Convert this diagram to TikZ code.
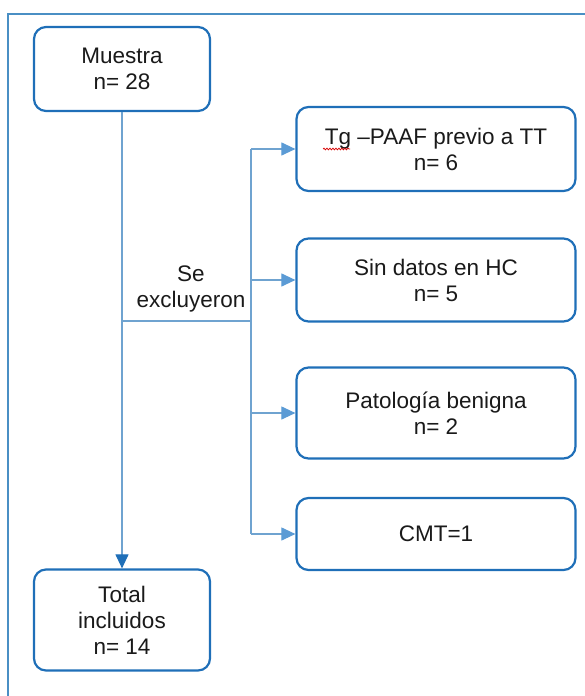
\documentclass[tikz,border=0pt]{standalone}
\usepackage{fontspec}
\setmainfont{Liberation Sans}
\usetikzlibrary{arrows.meta,decorations.pathmorphing}
\definecolor{boxblue}{HTML}{1F6FB8}
\definecolor{lineblue}{HTML}{6FA3D0}
\definecolor{arrblue}{HTML}{5B9BD5}
\definecolor{framec}{HTML}{4A8FC4}
\definecolor{txt}{HTML}{1A1A1A}
\begin{document}
\begin{tikzpicture}[x=1pt,y=-1pt,
  flowbox/.style={draw=boxblue,line width=2.2pt,rounded corners=12pt,fill=white,
    align=center,inner sep=0pt,font=\fontsize{22.5}{26}\selectfont,text=txt},
  conn/.style={draw=lineblue,line width=1.1pt},
  sidearrow/.style={conn,-{Triangle[length=14pt,width=13pt,fill=arrblue,color=arrblue]}},
  mainarrow/.style={conn,-{Triangle[length=14pt,width=13pt,fill=boxblue,color=boxblue]}}]
\useasboundingbox (0,0) rectangle (585,696);
% frame
\draw[framec,line width=1.2pt] (8,696) -- (8,14) -- (585,14);
% boxes
\node[flowbox,minimum width=176pt,minimum height=84pt] (muestra) at (122,69) {Muestra\\n= 28};
\node[flowbox,minimum width=176pt,minimum height=101pt] (total) at (122,620) {Total\\incluidos\\n= 14};
\node[flowbox,minimum width=279pt,minimum height=84pt] (b1) at (436,149) {Tg –PAAF previo a TT\\n= 6};
\node[flowbox,minimum width=279pt,minimum height=83pt] (b2) at (436,280) {Sin datos en HC\\n= 5};
\node[flowbox,minimum width=279pt,minimum height=91pt] (b3) at (436,413) {Patología benigna\\n= 2};
\node[flowbox,minimum width=279pt,minimum height=72pt] (b4) at (436,534) {CMT=1};
% spell-check underline
\draw[red!85!black,line width=0.7pt,decorate,decoration={snake,amplitude=0.9pt,segment length=3pt}] (323,149) -- (350,149);
% connectors
\coordinate (split) at (123,321);
\coordinate (branch) at (251,321);
\draw[mainarrow] (muestra.south) -- (total.north);
\draw[conn] (split) -- (branch);
\draw[conn] (b1.west -| branch) -- (b4.west -| branch);
\draw[sidearrow] (b1.west -| branch) -- (b1.west);
\draw[sidearrow] (b2.west -| branch) -- (b2.west);
\draw[sidearrow] (b3.west -| branch) -- (b3.west);
\draw[sidearrow] (b4.west -| branch) -- (b4.west);
\node[align=center,font=\fontsize{22.5}{26}\selectfont,text=txt,inner sep=0pt] (lbl) at (191,289) {Se\\excluyeron};
\end{tikzpicture}
\end{document}
